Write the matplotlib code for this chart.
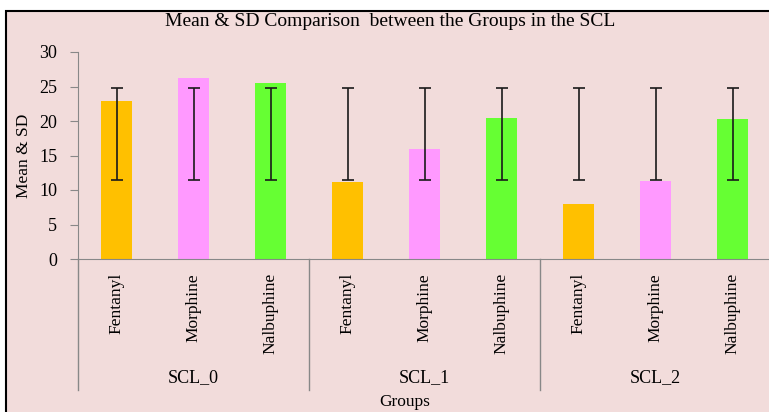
import matplotlib.pyplot as plt
from matplotlib.patches import Rectangle
import matplotlib.transforms as mtransforms

# data
groups = ["SCL_0", "SCL_1", "SCL_2"]
drugs = ["Fentanyl", "Morphine", "Nalbuphine"]
means = [
    [22.9, 26.3, 25.5],   # SCL_0
    [11.2, 16.0, 20.5],   # SCL_1
    [7.9, 11.3, 20.3],    # SCL_2
]
err_low = [
    [11.4, 11.4, 11.4],
    [11.4, 11.4, 11.4],
    [11.4, 11.4, 11.4],
]
err_high = [
    [24.8, 24.8, 24.8],
    [24.8, 24.8, 24.8],
    [24.8, 24.8, 24.8],
]
drug_colors = ["#FFC000", "#FF99FF", "#66FF33"]

plt.rcParams['font.family'] = ['Liberation Serif', 'DejaVu Serif']

W, H = 769, 412
fig = plt.figure(figsize=(W / 100, H / 100), dpi=100)
fig.patch.set_facecolor("white")
bg = "#F2DCDB"

# outer chart frame
frame = Rectangle((6 / W, -0.05), 1.0, (H - 11) / H + 0.05,
                  transform=fig.transFigure, facecolor=bg,
                  edgecolor="black", linewidth=1.5, zorder=-5)
fig.patches.append(frame)

ax = fig.add_axes([78 / W, (H - 259) / H, 693 / W, 207 / H])
ax.set_facecolor("none")

x = 0
xs, labels = [], []
for gi, g in enumerate(groups):
    for di, d in enumerate(drugs):
        m = means[gi][di]
        lo = err_low[gi][di]
        hi = err_high[gi][di]
        ax.bar(x, m, width=0.4, color=drug_colors[di], zorder=2)
        mid = (lo + hi) / 2
        ax.errorbar(x, mid, yerr=[[mid - lo], [hi - mid]], fmt="none",
                    ecolor="#1a1a1a", elinewidth=1.2, capsize=4,
                    capthick=1.2, zorder=3)
        xs.append(x)
        labels.append(d)
        x += 1

ax.set_xlim(-0.5, 8.5)
ax.set_ylim(0, 30)
ax.set_yticks(range(0, 31, 5))
ax.tick_params(axis="y", labelsize=13, color="#888888", length=6, pad=9)
ax.set_xticks(xs)
ax.set_xticklabels(labels, rotation=90, fontsize=12.5, va="top")
ax.tick_params(axis="x", length=0, pad=10)

for s in ["top", "right"]:
    ax.spines[s].set_visible(False)
ax.spines["bottom"].set_color("#888888")
ax.spines["left"].set_color("#888888")
ax.spines["left"].set_bounds(0, 30)

# group separators and labels below axis
trans = mtransforms.blended_transform_factory(ax.transData, ax.transAxes)
for i in range(len(groups) + 1):
    xp = -0.5 + 3 * i
    ax.plot([xp, xp], [0, -131 / 207], color="#888888", linewidth=1,
            transform=trans, clip_on=False)
for gi, g in enumerate(groups):
    ax.text(3 * gi + 1, -119 / 207, g, transform=trans, ha="center",
            va="center", fontsize=13)

fig.text(405 / W, 1 - 402 / H, "Groups", ha="center", va="center", fontsize=12.5)
ax.set_ylabel("Mean & SD", fontsize=12.5, labelpad=5)
fig.text(390 / W, 1 - 22 / H,
         "Mean & SD Comparison  between the Groups in the SCL",
         ha="center", va="center", fontsize=14)

fig.savefig("out.png", dpi=100, facecolor=fig.get_facecolor())
